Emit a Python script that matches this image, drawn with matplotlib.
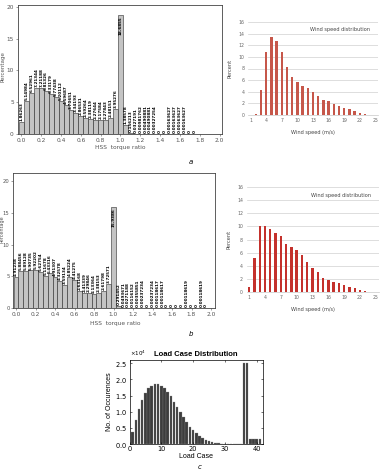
import numpy as np
import matplotlib
matplotlib.use('Agg')
import matplotlib.pyplot as plt

# HSS torque ratio histograms (bin width 0.05, bins start at 0.0)
hss_a = [1.86263, 5.14984, 6.52961, 7.21344, 7.21188, 6.81326, 6.33179, 5.77438,
         5.20112, 4.59687, 3.70651, 3.34193, 2.86531, 2.59264, 2.38119, 2.27644,
         2.17584, 2.27843, 2.48151, 3.95276, 18.6855, 1.38578, 0.156213, 0.0327191,
         0.00981762, 0.00490881, 0.00490881, 0.00327254, 0, 0, 0.00163627,
         0.00163627, 0.00163627, 0.00163627, 0, 0]
hss_b = [4.91238, 5.88456, 5.89128, 5.90735, 5.92202, 5.62754, 5.11678, 5.43316,
         4.91307, 4.32578, 3.59134, 4.85224, 4.41275, 2.63168, 2.41339, 2.29846,
         2.13364, 2.38153, 2.61798, 3.72571, 15.9386, 0.291452, 0.0493671,
         0.0271188, 0.0116152, 0.00355851, 0.00237234, 0, 0.00237234, 0.00118617,
         0.00118617, 0, 0, 0, 0, 0.00118619, 0, 0, 0.00118619, 0]

# wind speed distributions, percent for 1..25 m/s
wind_speed = list(range(1, 26))
wind_a = [0, 0.1, 4.3, 10.9, 13.5, 12.7, 10.8, 8.3, 6.5, 5.6, 5.0, 4.7, 4.0, 3.3,
          2.6, 2.4, 1.9, 1.5, 1.2, 1.1, 0.7, 0.4, 0.15, 0.05, 0.02]
wind_b = [0.8, 5.2, 10.1, 10.0, 9.6, 9.0, 8.5, 7.3, 6.8, 6.4, 5.7, 4.6, 3.6, 3.0,
          2.2, 1.9, 1.5, 1.3, 1.1, 0.8, 0.6, 0.3, 0.15, 0.05, 0.02]

# load case occurrences, cases 1..41
load_case = list(range(1, 42))
load_count = [3800, 7400, 10700, 13600, 15700, 17200, 18100, 18600, 18500, 18100,
              17200, 16200, 14900, 13100, 11600, 10000, 8300, 6900, 5400, 4300,
              3300, 2600, 1900, 1300, 900, 600, 400, 250, 150, 80, 40, 20, 10, 0,
              0, 25000, 25000, 1400, 1400, 1400, 1400]

fig = plt.figure(figsize=(3.84, 4.70), dpi=100)


def hss_plot(ax, vals, xlim, ylim):
    centers = np.arange(len(vals)) * 0.05
    ax.bar(centers, vals, width=0.05, color='#c4c4c4', edgecolor='#2a2a2a', linewidth=0.4)
    top = max(vals)
    for x, v in zip(centers, vals):
        txt = f'{v:.6g}'
        if v == top:
            # tallest bar gets its label inside
            ax.text(x, v - 0.2, txt, rotation=90, ha='center', va='top',
                    fontsize=3, fontweight='bold', color='black')
        else:
            ax.text(x, v + 0.15, txt, rotation=90, ha='center', va='bottom',
                    fontsize=3, fontweight='bold', color='black')
    ax.set_xlim(*xlim)
    ax.set_ylim(*ylim)
    ax.set_xticks(np.arange(0, 2.01, 0.2))
    ax.set_xticklabels([f'{t:.1f}' for t in np.arange(0, 2.01, 0.2)])
    ax.set_yticks([0, 5, 10, 15, 20])
    ax.tick_params(labelsize=4.2, colors='#555555', length=1.5, width=0.4, pad=1.5)
    for s in ax.spines.values():
        s.set_linewidth(0.6)
        s.set_color('#444444')


def wind_plot(ax, vals, color):
    ax.bar(wind_speed, vals, width=0.45, color=color, linewidth=0)
    ax.set_xlim(0.5, 25.5)
    ax.set_ylim(0, 16)
    ax.set_yticks(range(0, 17, 2))
    ax.set_xticks(range(1, 26, 3))
    ax.grid(axis='y', color='#d0d0d0', linewidth=0.5)
    ax.set_axisbelow(True)
    for side in ['top', 'right', 'left']:
        ax.spines[side].set_visible(False)
    ax.spines['bottom'].set_color('#c8c8c8')
    ax.spines['bottom'].set_linewidth(0.5)
    ax.tick_params(labelsize=3.3, colors='#666666', length=0, pad=2.5)
    ax.set_ylabel('Percent', fontsize=3.6, color='#444444', labelpad=4)
    ax.set_xlabel('Wind speed (m/s)', fontsize=3.6, color='#444444', labelpad=5)
    ax.text(0.94, 0.92, 'Wind speed distribution', transform=ax.transAxes,
            fontsize=3.6, color='#444444', ha='right', va='center')


# panel a
ax1 = fig.add_axes([18 / 384, 1 - 134 / 470, 204 / 384, 129 / 470])
hss_plot(ax1, hss_a, (-0.035, 2.025), (0, 20.3))
fig.text(3 / 384, 1 - 67 / 470, 'Percentage', rotation=90, fontsize=4, color='#555555',
         ha='center', va='center')
fig.text(120 / 384, 1 - 147 / 470, 'HSS  torque ratio', fontsize=4.2, color='#555555',
         ha='center', va='center')

ax2 = fig.add_axes([248 / 384, 1 - 115 / 470, 130 / 384, 93 / 470])
wind_plot(ax2, wind_a, '#c6574a')

fig.text(191 / 384, 1 - 162 / 470, 'a', fontsize=5, style='italic', ha='center', va='center')

# panel b (y label squeezed in between the 10 and 15 ticks)
ax3 = fig.add_axes([13 / 384, 1 - 308 / 470, 202 / 384, 135 / 470])
hss_plot(ax3, hss_b, (-0.031, 2.041), (0, 21.26))
ax3.tick_params(axis='y', labelsize=3.8, pad=1)
fig.text(2.5 / 384, 1 - 229 / 470, 'Percentage', rotation=90, fontsize=3.5, color='#555555',
         ha='center', va='center')
fig.text(115 / 384, 1 - 323 / 470, 'HSS  torque ratio', fontsize=4.2, color='#555555',
         ha='center', va='center')

ax4 = fig.add_axes([246.5 / 384, 1 - 292 / 470, 132 / 384, 105 / 470])
wind_plot(ax4, wind_b, '#c4312c')

fig.text(191 / 384, 1 - 334 / 470, 'b', fontsize=5, style='italic', ha='center', va='center')

# panel c, matlab style bar chart
ax5 = fig.add_axes([129.5 / 384, 1 - 444 / 470, 133.5 / 384, 84 / 470])
ax5.bar(load_case, load_count, width=0.8, color='#3d3d3d', edgecolor='#8a8a8a', linewidth=0.2)
ax5.set_xlim(0, 42)
ax5.set_ylim(0, 26000)
ax5.set_xticks([0, 10, 20, 30, 40])
ax5.set_yticks([0, 5000, 10000, 15000, 20000, 25000])
ax5.ticklabel_format(axis='y', style='sci', scilimits=(0, 0), useMathText=True)
ax5.yaxis.get_offset_text().set_fontsize(4)
ax5.tick_params(labelsize=4.8, direction='in', length=1.5, width=0.4, pad=1.5,
                top=True, right=True)
for s in ax5.spines.values():
    s.set_linewidth(0.5)
ax5.set_title('Load Case Distribution', fontsize=5.5, fontweight='bold', pad=3,
              family='Liberation Sans')
ax5.set_xlabel('Load Case', fontsize=5, labelpad=1, family='Liberation Sans')
ax5.set_ylabel('No. of Occurences', fontsize=5, labelpad=2, family='Liberation Sans')

fig.text(200 / 384, 1 - 467 / 470, 'c', fontsize=5, style='italic', ha='center', va='center')

fig.savefig('out.png', dpi=100)
